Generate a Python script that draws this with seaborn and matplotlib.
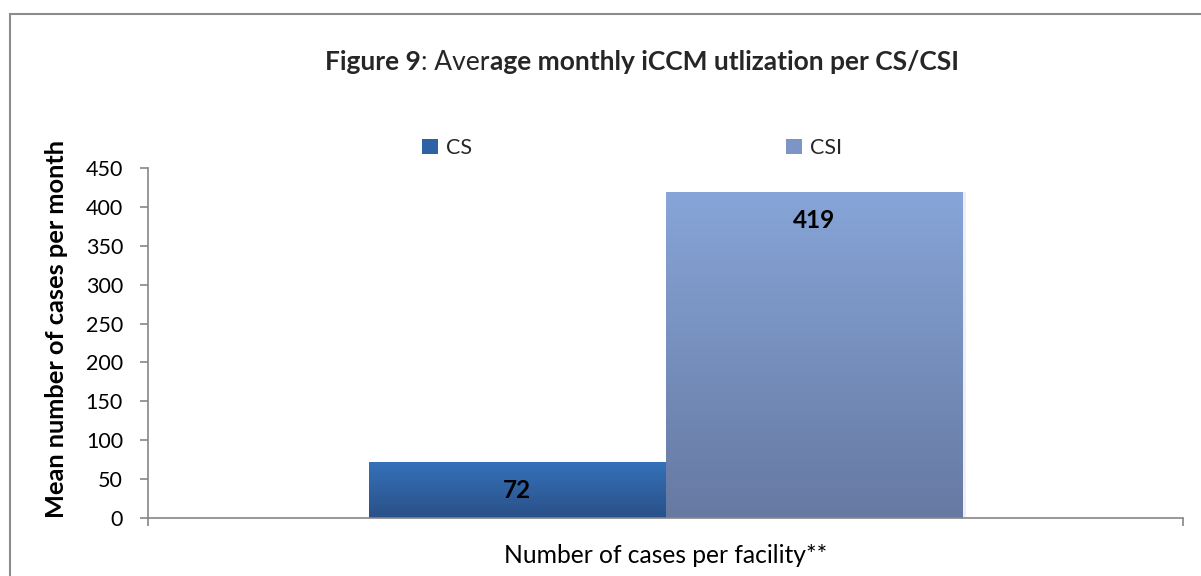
import numpy as np
import pandas as pd
import seaborn as sns
from matplotlib import pyplot as plt
from matplotlib.patches import Patch, Rectangle
from matplotlib.colors import LinearSegmentedColormap

# data
category = ["Number of cases per facility**"]
facility_types = ["CS", "CSI"]
mean_cases = [72, 419]

# gradient colours (top, bottom) per series
grad_top = {"CS": "#3571BA", "CSI": "#87A5D8"}
grad_bottom = {"CS": "#2A5087", "CSI": "#6679A2"}
legend_colors = {"CS": "#2F62A5", "CSI": "#7C95C6"}

df = pd.DataFrame(
    {
        "category": category * len(facility_types),
        "type": facility_types,
        "mean": mean_cases,
    }
)

sns.set_theme(style="white")
plt.rcParams["font.family"] = ["Lato", "DejaVu Sans"]

fig = plt.figure(figsize=(12.01, 5.76), dpi=100)
ax = fig.add_axes([148 / 1201, 58 / 576, 1035 / 1201, 350 / 576])

sns.barplot(
    data=df,
    x="category",
    y="mean",
    hue="type",
    palette=legend_colors,
    width=0.573,
    gap=0,
    ax=ax,
    legend=False,
)

ax.set_xlim(-0.5, 0.5)
ax.set_ylim(0, 450)
ax.set_yticks(np.arange(0, 451, 50))
ax.set_xticks([-0.5, 0.5])
ax.set_xticklabels(["", ""])
ax.tick_params(axis="both", direction="out", length=6, width=1.2, color="#868686",
               left=True, bottom=True, labelsize=15.5, labelcolor="black")
ax.tick_params(axis="y", pad=12)

for side in ["top", "right"]:
    ax.spines[side].set_visible(False)
for side in ["left", "bottom"]:
    ax.spines[side].set_color("#868686")
    ax.spines[side].set_linewidth(1.2)

# vertical gradient inside each bar, value label near the top
for patch, t in zip(ax.patches, facility_types):
    x0, y0 = patch.get_x(), patch.get_y()
    w, h = patch.get_width(), patch.get_height()
    cmap = LinearSegmentedColormap.from_list(t, [grad_bottom[t], grad_top[t]])
    grad = np.linspace(0, 1, 256).reshape(-1, 1)
    im = ax.imshow(grad, cmap=cmap, aspect="auto", origin="lower",
                   extent=(x0, x0 + w, y0, y0 + h), zorder=patch.get_zorder() + 0.1)
    im.set_clip_path(patch)
    # faint shadow on the right
    ax.add_patch(Rectangle((x0 + w, y0), 0.004, h, color="#efefef", zorder=1, lw=0))
    ax.text(x0 + w / 2, h - 37, f"{h:.0f}", ha="center", va="center",
            fontsize=17.5, fontweight="bold", color="black", zorder=5)

ax.set_xlim(-0.5, 0.5)
ax.set_ylim(0, 450)

ax.set_xlabel(category[0], fontsize=17.7, labelpad=9, color="black")
ax.set_ylabel("Mean number of cases per month", fontsize=18.3, fontweight="bold", color="black")
ax.yaxis.set_label_coords(-0.077, 0.54)

handles = [Patch(facecolor=legend_colors[t], edgecolor="none") for t in facility_types]
ax.legend(handles, facility_types, ncol=2, frameon=False, fontsize=15.5,
          loc="center", bbox_to_anchor=(632 / 1201, 1 - 148 / 576),
          bbox_transform=fig.transFigure, handlelength=0.75, handleheight=0.7,
          handletextpad=0.35, columnspacing=14.6)

# title with mixed weights, pieces laid side by side on one baseline
fs = 19
bl = 1 - 70 / 576
t1 = fig.text(0, bl, "Figure 9", fontsize=fs, fontweight="bold", va="baseline", ha="left")
t2 = fig.text(0, bl, ": Aver", fontsize=fs, va="baseline", ha="left")
t3 = fig.text(0, bl, "age monthly iCCM utlization per CS/CSI", fontsize=fs,
              fontweight="bold", va="baseline", ha="left")
fig.canvas.draw()
r = fig.canvas.get_renderer()
w1 = t1.get_window_extent(r).width
w2 = t2.get_window_extent(r).width
w3 = t3.get_window_extent(r).width
start = 642 - (w1 + w2 + w3) / 2
t1.set_x(start / 1201)
t2.set_x((start + w1) / 1201)
t3.set_x((start + w1 + w2) / 1201)

# outer chart border
fig.add_artist(Rectangle((10 / 1201, -0.1), 1.2, 0.1 + (1 - 14 / 576),
                         transform=fig.transFigure, fill=False,
                         edgecolor="#8c8c8c", lw=1.5))

fig.savefig("out.png", dpi=100)
